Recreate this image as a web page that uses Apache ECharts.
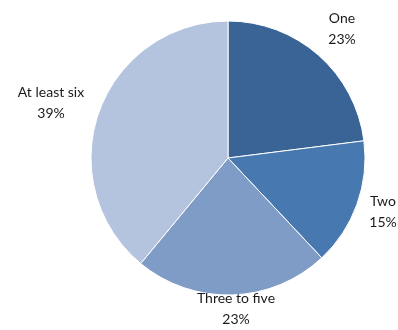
<!DOCTYPE html>
<html>
<head>
<meta charset="utf-8">
<script src="https://cdn.jsdelivr.net/npm/echarts@6/dist/echarts.min.js"></script>
<style>
html, body { margin: 0; padding: 0; background: #fff; }
#pie { width: 398px; height: 330px; }
</style>
</head>
<body>
<div id="pie"></div>
<script>
var categories = ['One', 'Two', 'Three to five', 'At least six'];
var shares = [23, 15, 23, 39];
var sliceColors = ['#3b6496', '#4778b0', '#7f9cc7', '#b4c4de'];
// label centres, same order as categories
var labelSpots = [[342, 29], [383, 212], [236, 309], [51, 103]];

function drawPie() {
	var myChart = echarts.init(document.getElementById('pie'));
	var data = [];
	for (var i = 0; i < categories.length; i++) {
		data.push({ name: categories[i], value: shares[i] });
	}
	var option = {
		animation: false,
		series: [{
			type: 'pie',
			center: [228, 158],
			radius: 137,
			startAngle: 90,
			clockwise: true,
			silent: true,
			avoidLabelOverlap: false,
			data: data,
			color: sliceColors,
			itemStyle: {
				borderColor: '#ffffff',
				borderWidth: 1
			},
			label: {
				show: true,
				position: 'outside',
				formatter: '{b}\n{c}%',
				fontFamily: 'Lato',
				fontSize: 14,
				lineHeight: 21,
				color: '#1a1a1a',
				align: 'center',
				overflow: 'none',
				width: 120
			},
			labelLine: { show: false },
			labelLayout: function (p) {
				var s = labelSpots[p.dataIndex];
				return { x: s[0], y: s[1], align: 'center', verticalAlign: 'middle', hideOverlap: false, moveOverlap: null };
			}
		}]
	};
	myChart.setOption(option);
}
drawPie();
</script>
</body>
</html>
